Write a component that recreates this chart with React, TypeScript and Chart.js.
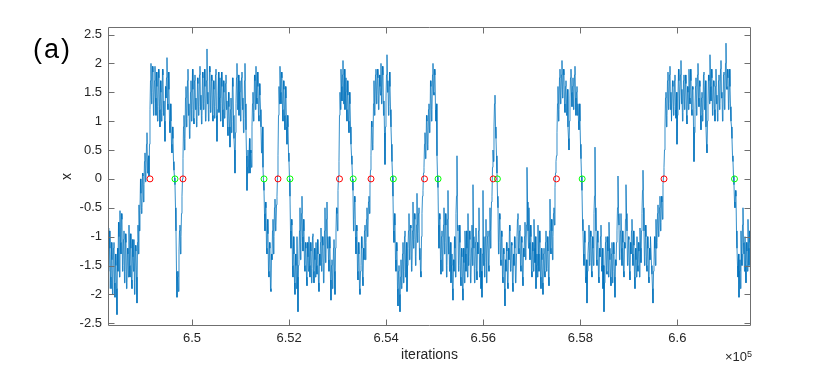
import React, { useEffect, useRef } from 'react';
import { Chart, registerables } from 'chart.js';

Chart.register(...registerables);

// ---- data ----
const X_START = 648270;
const X_STEP = 20.6;
const X_MIN = 648270;
const X_MAX = 661516;
const Y_MIN = -2.547;
const Y_MAX = 2.63;

const X_TICKS = [650000, 652000, 654000, 656000, 658000, 660000];
const X_TICK_LABELS = ['6.5', '6.52', '6.54', '6.56', '6.58', '6.6'];
const Y_TICKS = [-2.5, -2, -1.5, -1, -0.5, 0, 0.5, 1, 1.5, 2, 2.5];
const Y_TICK_LABELS = ['-2.5', '-2', '-1.5', '-1', '-0.5', '0', '0.5', '1', '1.5', '2', '2.5'];

const UP_CROSSINGS = [649135, 649815, 651772, 653039, 653688, 654790, 656205, 657509, 659724];
const DOWN_CROSSINGS = [649650, 651484, 652019, 653321, 654148, 655070, 656292, 658038, 661176];

// samples at whole steps
const segA = [-0.85, -1.6, -1.2, -1.9, -1.4, -1.75, -1.1, -2.05, -1.5, -2.35,
  -1.6, -1.0, -0.55, -1.3, -0.7, -1.5, -0.9, -1.6, -1.1, -1.8,
  -1.3, -0.8, -1.7, -1.2, -1.9, -1.35, -1.05, -1.8, -1.25, -2.15,
  -0.8, -0.45,
  -0.55, -0.25, -0.5, 0.05, -0.1, 0.45, 0.15, 0.8, 0.3, 0.05];
const segB = [1.2, 2.0, 1.5, 1.85, 1.3, 1.95, 1.1, 1.6, 1.25, 1.75,
  0.9, 1.5, 1.15, 1.8, 1.35, 0.65, 1.4, 2.1, 1.2, 1.55,
  0.8, 1.0, 0.45, 0.7, 0.15];
const segC = [-0.1, -0.9, -2.05, -1.6, -1.25, -0.8, -1.0, -0.3];
const segD = [0.35, 1.1, 0.7, 1.6, 1.05, 1.9, 1.3, 0.85, 1.7, 1.2,
  1.55, 0.95, 1.8, 1.4, 1.0, 1.65, 1.25, 1.95, 1.45, 1.1,
  1.75, 1.3, 1.6, 1.05, 2.25, 1.5, 1.2, 1.85, 1.35, 1.7,
  1.0, 1.55, 1.25, 1.9, 0.65, 1.45, 1.15, 1.75, 1.3, 1.6,
  0.9, 1.5, 1.1, 1.8, 1.35, 0.75, 1.25, 0.55, 1.4, 1.0,
  1.6, 0.7, 0.1, 1.3, 2.0, 1.45, 1.1, 1.7, 1.25, 1.85,
  1.4, 1.05, 2.0, 0.85, -0.2, 0.5, 0.35, 0.1, 0.45, 0.9,
  1.5, 1.15, 1.7, 1.95, 1.3, 1.6, 1.0, 1.45, 0.9, 0.6,
  0.2];
const segE = [-0.2, -0.9, -0.5, -1.3, -0.95, -1.7, -1.2, -1.95, -1.4, -0.7, -1.0, -0.35, -0.8, -0.3];
const segF = [0.4, 1.6, 1.95, 1.3, 1.75, 1.0, 1.55, 0.85, 1.4, 0.6, 0.9, 0.3];
const segG = [-0.3, -1.2, -0.8, -1.7, -1.3, -2.0, -1.5, -1.0, -2.3, -1.4,
  -0.5, -1.1, -0.3, -1.25, -0.9, -1.6, -1.2, -1.85, -1.35, -1.0,
  -1.7, -1.25, -1.55, -0.95, -1.8, -1.4, -1.1, -1.65, -1.3, -1.95,
  -1.5, -0.85, -1.45, -1.15, -1.75, -0.5, -1.3, -0.4, -1.0, -1.6,
  -1.2, -2.1, -1.4, -1.75, -1.05, -2.0, -0.9, -0.6, -0.2];
const segH = [0.3, 1.5, 1.9, 1.35, 2.05, 1.6, 1.2, 1.75, 1.0, 1.45, 0.8, 1.3, 0.6, 0.25];
const segI = [-0.2, -0.7, -0.4, -1.3, -0.9, -1.75, -1.3, -2.0, -1.5, -1.2, -1.85, -1.4, -0.8, -1.1, -0.5, -0.85, -0.3, -0.1];
const segJ = [0.4, 0.9, 0.6, 1.7, 1.2, 1.9, 1.45, 1.75, 1.3, 1.6, 2.0, 1.5, 1.8, 1.35, 0.25, 1.4, 2.15, 1.7, 1.25, 1.6, 0.9, 0.3];
const segK = [-0.3, -1.1, -0.8, -1.6, -1.25, -2.2, -1.5, -2.3, -1.4, -1.85,
  -1.1, -1.6, -0.9, -1.45, -1.95, -1.2, -0.6, -1.3, -0.85, -1.5,
  -0.4, -1.05, -0.7, -1.35, -0.25, -0.95, -0.5, -1.2, -1.7, -0.6,
  -0.2];
const segL = [0.2, 0.8, 0.45, 1.0, 0.6, 1.3, 0.9, 1.6, 1.2, 2.0, 1.45, 1.8, 1.0, 0.4];
const segM = [-0.15, -1.2, -0.7, -1.65, -0.9, -1.35, -0.5, -1.1, -0.8, -1.5,
  -0.2, -1.0, -1.4, -1.8, -1.3, -2.1, -1.6, -1.2, -0.6, 0.4,
  -0.9, -1.5, -1.1, -1.85, -1.35, -2.1, -1.45, -0.9, -1.6, -1.2,
  -0.6, -1.35, -1.05, -1.7, -0.8, -0.1, -1.2, -1.55, -0.85, -1.75,
  -1.3, -0.5, -1.4, -1.9, -2.05, -0.2, -1.0, -1.45, -0.7, -1.3,
  -0.9, -1.6, -0.5, -0.9];
const segN = [-0.3, 0.5, 0.9, 1.45, 0.7, 0.1];
const segO = [-0.5, -1.1, -0.7, -1.5, -1.0, -1.8, -1.3, -2.2, -1.6, -1.25,
  -1.9, -1.4, -0.9, -1.55, -1.15, -1.95, -1.5, -1.2, -1.75, -1.0,
  -0.6, -1.3, -0.8, -1.6, -1.1, -1.85, -1.35, -0.75, -1.2, 0.2,
  -0.9, -0.5, -1.4, -1.0, -1.7, -1.25, -0.7, -1.45, -1.9, -1.3,
  -0.8, -1.6, -1.1, -1.9, -1.4, -2.0, -1.2, -1.7, -0.9, -1.55,
  -1.25, -1.85, -0.35, -1.3, -0.9, -1.0, -0.5, -0.15];
const segP = [0.3, 0.8, 1.6, 1.2, 1.9, 1.45, 2.05, 1.55, 1.8, 1.15,
  1.7, 1.3, 0.9, 0.5, 1.4, 1.9, 1.25, 1.75, 1.4, 1.95,
  1.1, 1.6, 1.3, 0.85, 1.0, 0.35];
const segQ = [-0.2, -0.9, -1.5, -1.1, -1.8, -2.15, -1.3, -0.8, -1.45, -1.0,
  -1.7, -1.2, -0.6, 0.55, -0.9, -1.5, -1.1, -1.8, -1.35, -0.8,
  -1.6, -1.9, -2.3, -1.5, -1.0, -1.65, -1.25, -0.75, -1.4, -1.85,
  -1.1, -1.6, -1.3, -2.05, -1.5, -0.9, 0.05, -0.8, -1.3, -0.6,
  -1.5, -1.1, -1.7, -1.2, -0.1, -0.9, -1.45, -1.05, -1.75, -1.3,
  -0.7, -1.5, -1.15, -1.9, -1.4, -1.0, -1.6, -1.25, -0.85, -1.45,
  -0.6, 0.15, -0.9, -1.35, -1.0, -1.6, -1.2, -1.8, -1.4, -1.0,
  -1.65, -2.15, -1.5, -1.2, -0.7, -1.1, -0.45, -0.9, -0.3, -0.75,
  -0.4, -0.1];
const segR = [0.2, 0.9, 1.5, 1.1, 1.85, 1.3, 1.95, 1.5, 1.0, 1.6,
  1.25, 1.8, 1.05, 0.6, 1.4, 1.7, 1.2, 2.05, 1.55, 1.15,
  1.8, 1.35, 1.65, 0.95, 1.5, 1.9, 1.3, 1.7, 1.1, 1.55,
  0.3, 1.2, 1.75, 1.4, 2.0, 1.25, 1.6, 0.85, 1.5, 1.15,
  1.85, 1.45, 0.9, 0.45, 1.3, 1.7, 2.15, 1.35, 1.75, 1.2,
  1.6, 1.0, 1.9, 1.45, 1.15, 1.8, 1.3, 2.05, 1.5, 1.2,
  1.85, 1.4, 2.35, 1.55, 1.75, 1.3, 1.6, 1.0, 0.7, 0.3];
const segS = [-0.1, -0.5, -0.3, -1.2, -1.7, -2.05, -1.4, -0.9, -1.5, -0.5, -1.3, -1.0, -1.8, -1.25, -0.7, -1.5, -1.1, -1.4];

// samples at half steps (between consecutive whole-step samples)
const midA = [-1.9, -0.9, -1.7, -1.1, -2.0, -1.2, -1.8, -1.3, -1.9, -1.2,
  -0.75, -1.7, -1.1, -0.6, -1.6, -1.05, -1.8, -0.95, -1.9, -1.2,
  -1.7, -1.5, -0.95, -1.75, -1.05, -1.6, -2.0, -1.15, -1.7, -1.1,
  -1.3, -0.9,
  0.0, -0.6, 0.1, -0.4, 0.3, -0.05, 0.6, 0.1, 0.4, 0.6];
const midB = [1.7, 1.3, 1.95, 1.1, 1.7, 1.4, 1.85, 1.0, 1.9, 1.2,
  1.7, 1.0, 1.9, 1.1, 1.0, 1.6, 1.75, 1.3, 1.85, 1.0,
  1.3, 0.6, 0.9, 0.3, 0.02];
const midC = [-0.5, -1.6, -1.7, -1.95, -0.9, -1.3, -0.6, 0.0];
const midD = [0.9, 0.5, 1.4, 0.9, 1.7, 1.1, 0.7, 1.5, 1.0, 1.9,
  1.05, 1.7, 1.2, 0.9, 1.75, 1.1, 1.8, 1.2, 0.95, 1.85,
  1.2, 1.9, 1.0, 1.7, 1.3, 1.0, 1.95, 1.15, 1.8, 1.1,
  1.7, 1.05, 1.8, 1.1, 1.2, 1.85, 1.4, 1.0, 1.85, 1.2,
  1.7, 1.05, 1.65, 1.2, 0.9, 1.5, 0.9, 1.2, 0.8, 1.75,
  1.1, 0.5, 0.8, 1.75, 1.2, 1.8, 1.5, 1.0, 1.75, 1.2,
  0.8, 1.7, 1.3, 0.4, 0.2, 0.1, 0.7, 0.5, 0.2, 1.3,
  1.0, 1.8, 1.2, 1.4, 1.85, 1.1, 1.65, 1.2, 0.45, 0.9,
  -0.05];
const midE = [-0.6, -0.4, -1.2, -0.7, -1.6, -1.1, -1.9, -1.3, -0.9, -1.3, -0.5, -0.9, -0.45, 0.05];
const midF = [1.1, 1.3, 1.5, 1.85, 1.2, 1.7, 1.1, 1.6, 0.9, 1.1, 0.45, 0.0];
const midG = [-0.9, -0.7, -1.5, -1.0, -1.8, -1.3, -1.9, -1.7, -1.5, -0.9,
  -1.4, -0.6, -1.0, -0.7, -1.5, -1.1, -1.7, -1.1, -1.6, -1.5,
  -1.1, -1.8, -1.0, -1.6, -1.2, -1.7, -1.5, -1.05, -1.8, -1.3,
  -1.1, -1.6, -1.0, -1.8, -0.9, -1.45, -0.7, -1.2, -1.4, -1.0,
  -1.75, -1.5, -1.9, -1.2, -1.6, -1.2, -0.5, -0.9, 0.05];
const midH = [1.1, 1.2, 1.6, 1.8, 1.3, 1.9, 1.5, 1.2, 1.7, 1.0, 1.5, 0.9, 0.4, 0.0];
const midI = [-0.9, -0.3, -1.0, -0.8, -1.6, -1.1, -1.9, -1.6, -1.0, -1.7, -1.2, -0.9, -1.4, -0.7, -1.0, -0.4, -0.6, 0.15];
const midJ = [1.0, 0.5, 1.3, 1.1, 1.8, 1.3, 1.9, 1.2, 1.8, 1.45, 1.3, 1.95, 1.1, 0.8, 0.9, 1.8, 1.5, 1.1, 1.85, 1.2, 0.6, 0.05];
const midK = [-0.9, -0.6, -1.4, -1.1, -1.9, -1.6, -2.0, -1.7, -1.9, -1.3,
  -1.8, -1.0, -1.7, -1.1, -1.5, -0.9, -1.4, -0.8, -1.6, -0.9,
  -1.2, -0.6, -1.5, -0.8, -1.1, -0.6, -1.4, -1.6, -1.0, -0.3,
  0.1];
const midL = [0.6, 0.35, 1.1, 0.5, 1.2, 0.8, 1.7, 1.0, 1.8, 1.5, 1.9, 1.2, 1.3, 0.05];
const midM = [-0.8, -0.6, -1.4, -1.0, -1.6, -0.8, -1.3, -0.6, -1.7, -0.7,
  -1.3, -1.6, -1.1, -1.5, -1.9, -1.4, -1.0, -1.7, -0.3, -0.8,
  -1.6, -0.8, -1.7, -1.2, -1.9, -1.2, -1.8, -1.3, -0.9, -1.7,
  -1.5, -0.9, -1.8, -1.2, -1.5, -1.0, -1.8, -1.1, -1.6, -1.1,
  -0.9, -1.7, -1.2, -1.6, -1.3, -1.5, -1.7, -1.0, -1.8, -1.0,
  -1.5, -0.9, -1.2, -0.4];
const midN = [0.2, 0.3, 1.3, 0.9, 0.4, -0.3];
const midO = [-1.3, -0.6, -1.4, -0.9, -1.7, -1.2, -1.9, -1.4, -1.1, -1.8,
  -1.2, -0.8, -1.6, -1.1, -1.8, -1.3, -1.0, -1.8, -1.3, -0.7,
  -1.2, -0.9, -1.5, -1.0, -1.7, -1.2, -1.0, -1.4, -0.8, -0.4,
  -1.2, -1.1, -0.8, -1.6, -1.1, -1.6, -1.2, -1.0, -1.5, -1.7,
  -1.3, -0.9, -1.7, -1.2, -1.8, -1.3, -1.6, -1.1, -1.6, -1.0,
  -1.7, -0.9, -1.2, -0.7, -1.4, -0.6, -0.8, 0.1];
const midP = [0.4, 1.3, 1.0, 1.75, 1.3, 1.8, 1.4, 1.9, 1.3, 1.6,
  1.1, 1.55, 0.7, 1.0, 1.75, 1.5, 1.6, 1.2, 1.8, 1.4,
  1.5, 1.1, 1.0, 1.3, 0.6, 0.05];
const midQ = [-0.7, -1.3, -0.9, -1.7, -1.4, -1.6, -1.1, -1.5, -0.9, -1.6,
  -1.0, -1.5, -0.3, -0.5, -1.4, -0.9, -1.7, -1.2, -1.0, -1.5,
  -1.2, -1.5, -1.8, -1.1, -1.6, -1.0, -1.7, -1.2, -1.7, -1.3,
  -1.8, -1.1, -1.7, -1.4, -1.1, -0.5, -0.6, -1.4, -0.9, -1.2,
  -0.9, -1.6, -1.1, -0.7, -0.6, -1.5, -1.0, -1.6, -1.1, -0.9,
  -1.3, -0.9, -1.7, -1.2, -1.7, -1.5, -1.1, -1.7, -1.2, -0.9,
  -0.2, -0.5, -1.5, -0.8, -1.5, -1.0, -1.7, -1.2, -1.0, -1.5,
  -1.9, -1.6, -1.0, -1.5, -1.2, -0.6, -1.0, -0.5, -0.9, -0.3,
  -0.7, 0.05];
const midR = [0.5, 1.4, 0.9, 1.7, 1.2, 1.8, 1.2, 1.0, 1.7, 1.1,
  1.7, 1.2, 1.5, 1.1, 1.9, 1.2, 1.8, 1.3, 1.0, 1.7,
  1.2, 1.8, 1.1, 1.6, 1.2, 1.4, 1.9, 1.2, 1.6, 0.9,
  0.8, 1.6, 1.1, 1.8, 1.4, 1.7, 1.1, 1.4, 1.0, 1.8,
  1.2, 1.7, 0.6, 1.0, 1.8, 1.3, 1.6, 1.9, 1.1, 1.7,
  1.2, 1.6, 1.3, 1.0, 1.7, 1.2, 1.9, 1.4, 1.0, 1.8,
  1.2, 2.0, 1.6, 1.9, 1.2, 1.9, 1.25, 0.9, 0.4, 0.05];
const midS = [-0.4, -0.2, -0.9, -1.5, -1.3, -1.6, -1.9, -1.3, -0.8, -1.1, -1.6, -1.5, -1.1, -1.6, -1.2, -0.9, -1.7, -1.2];

const WHOLE = [
  ...segA, ...segB, ...segC, ...segD, ...segE, ...segF, ...segG, ...segH, ...segI, ...segJ,
  ...segK, ...segL, ...segM, ...segN, ...segO, ...segP, ...segQ, ...segR, ...segS,
];
const HALF = [
  ...midA, ...midB, ...midC, ...midD, ...midE, ...midF, ...midG, ...midH, ...midI, ...midJ,
  ...midK, ...midL, ...midM, ...midN, ...midO, ...midP, ...midQ, ...midR, ...midS,
];

// ---- styles ----
const LINE_COLOR = '#0072BD';
const AXIS_COLOR = '#6f6f6f';
const TEXT_COLOR = '#262626';
const FONT = 'Liberation Sans, Arial, sans-serif';
const TICK_LEN = 6;

const framePlugin = {
  id: 'frame',
  afterDatasetsDraw(chart: any) {
    const { ctx, chartArea: a, scales } = chart;
    ctx.save();
    ctx.strokeStyle = AXIS_COLOR;
    ctx.lineWidth = 1;
    const L = Math.round(a.left) + 0.5;
    const R = Math.round(a.right) - 0.5;
    const T = Math.round(a.top) + 0.5;
    const B = Math.round(a.bottom) - 0.5;
    ctx.beginPath();
    ctx.rect(L, T, R - L, B - T);
    for (const v of X_TICKS) {
      const px = Math.round(scales.x.getPixelForValue(v)) + 0.5;
      ctx.moveTo(px, B); ctx.lineTo(px, B - TICK_LEN);
      ctx.moveTo(px, T); ctx.lineTo(px, T + TICK_LEN);
    }
    for (const v of Y_TICKS) {
      const py = Math.round(scales.y.getPixelForValue(v)) + 0.5;
      ctx.moveTo(L, py); ctx.lineTo(L + TICK_LEN, py);
      ctx.moveTo(R, py); ctx.lineTo(R - TICK_LEN, py);
    }
    ctx.stroke();

    // panel label
    ctx.fillStyle = '#000000';
    ctx.font = `27px ${FONT}`;
    ctx.textBaseline = 'middle';
    ctx.textAlign = 'left';
    (ctx as any).letterSpacing = '2px';
    ctx.fillText('(a)', 33, 51);
    (ctx as any).letterSpacing = '0px';

    // exponent label
    ctx.fillStyle = TEXT_COLOR;
    ctx.textBaseline = 'alphabetic';
    ctx.textAlign = 'right';
    ctx.font = `9px ${FONT}`;
    ctx.fillText('5', a.right + 1, 357);
    const w5 = ctx.measureText('5').width;
    ctx.font = `13px ${FONT}`;
    ctx.fillText('\u00d710', a.right + 1 - w5, 361);
    ctx.restore();
  },
};

export default function App() {
  const ref = useRef<HTMLCanvasElement | null>(null);
  useEffect(() => {
    if (!ref.current) return;
    const series: { x: number; y: number }[] = [];
    WHOLE.forEach((y, i) => {
      series.push({ x: X_START + i * X_STEP, y });
      if (i < WHOLE.length - 1) series.push({ x: X_START + (i + 0.5) * X_STEP, y: HALF[i] });
    });
    const up = UP_CROSSINGS.map((x) => ({ x, y: 0 }));
    const down = DOWN_CROSSINGS.map((x) => ({ x, y: 0 }));
    const chart = new Chart(ref.current, {
      type: 'line',
      data: {
        datasets: [
          {
            type: 'scatter' as any,
            data: up,
            showLine: false,
            pointStyle: 'circle',
            pointRadius: 3,
            pointBorderWidth: 1,
            pointBorderColor: '#FF0000',
            pointBackgroundColor: 'rgba(0,0,0,0)',
            order: 0,
          },
          {
            type: 'scatter' as any,
            data: down,
            showLine: false,
            pointStyle: 'circle',
            pointRadius: 3,
            pointBorderWidth: 1,
            pointBorderColor: '#00FF00',
            pointBackgroundColor: 'rgba(0,0,0,0)',
            order: 1,
          },
          {
            data: series,
            borderColor: LINE_COLOR,
            borderWidth: 0.8,
            pointRadius: 0,
            tension: 0,
            fill: false,
            order: 2,
          },
        ],
      },
      options: {
        animation: false,
        responsive: false,
        maintainAspectRatio: false,
        layout: { padding: { left: 59, right: 79, top: 27, bottom: 3 } },
        plugins: { legend: { display: false }, tooltip: { enabled: false } },
        scales: {
          x: {
            type: 'linear',
            min: X_MIN,
            max: X_MAX,
            grid: { display: false, drawTicks: false },
            border: { display: false },
            afterFit: (s: any) => { s.height = 38; },
            afterBuildTicks: (s: any) => { s.ticks = X_TICKS.map((value) => ({ value })); },
            ticks: {
              padding: 5,
              maxRotation: 0,
              autoSkip: false,
              color: TEXT_COLOR,
              font: { family: FONT, size: 13 },
              callback: (v: any) => X_TICK_LABELS[X_TICKS.indexOf(Number(v))],
            },
            title: {
              display: true,
              text: 'iterations',
              color: TEXT_COLOR,
              padding: 0,
              font: { family: FONT, size: 14 },
            },
          },
          y: {
            type: 'linear',
            min: Y_MIN,
            max: Y_MAX,
            grid: { display: false, drawTicks: false },
            border: { display: false },
            afterFit: (s: any) => { s.width = 49; },
            afterBuildTicks: (s: any) => { s.ticks = Y_TICKS.map((value) => ({ value })); },
            ticks: {
              padding: 6,
              autoSkip: false,
              color: TEXT_COLOR,
              font: { family: FONT, size: 13 },
              callback: (v: any) => Y_TICK_LABELS[Y_TICKS.indexOf(Number(v))],
            },
            title: {
              display: true,
              text: 'x',
              color: TEXT_COLOR,
              padding: 0,
              font: { family: FONT, size: 14 },
            },
          },
        },
      },
      plugins: [framePlugin],
    });
    return () => chart.destroy();
  }, []);
  return (
    <div style={{ position: 'fixed', left: 0, top: 0, width: 830, height: 367, background: '#ffffff' }}>
      <canvas ref={ref} width={830} height={367} style={{ display: 'block', width: 830, height: 367 }} />
    </div>
  );
}
